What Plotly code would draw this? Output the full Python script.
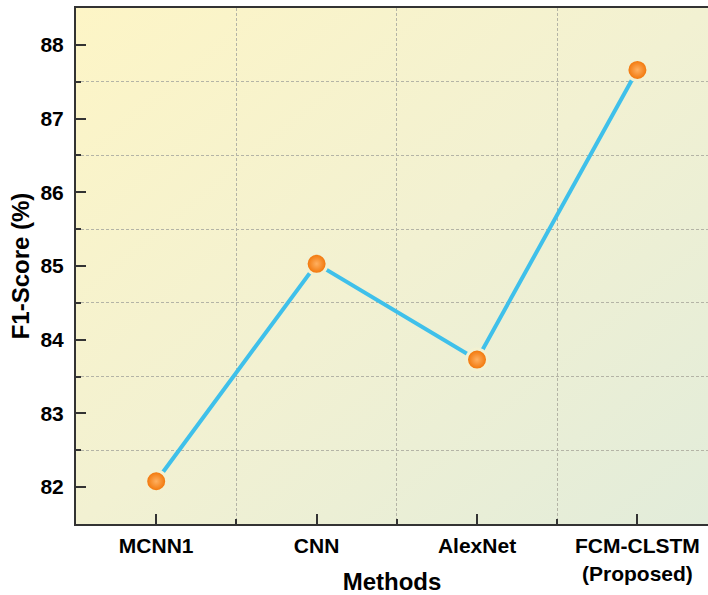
import base64
import plotly.graph_objects as go

methods = ["MCNN1", "CNN", "AlexNet", "FCM-CLSTM<br>(Proposed)"]
f1_scores = [82.08, 85.03, 83.73, 87.66]
y_ticks = [82, 83, 84, 85, 86, 87, 88]

x_pos = list(range(len(methods)))

svg = (
    '<svg xmlns="http://www.w3.org/2000/svg" viewBox="0 0 100 100" preserveAspectRatio="none">'
    '<defs><linearGradient id="g" x1="0" y1="0" x2="1" y2="1">'
    '<stop offset="0" stop-color="#fdf5c6"/>'
    '<stop offset="0.5" stop-color="#f2f1d2"/>'
    '<stop offset="1" stop-color="#e2ecda"/>'
    '</linearGradient></defs>'
    '<rect x="0" y="0" width="100" height="100" fill="url(#g)"/></svg>'
)
bg_src = "data:image/svg+xml;base64," + base64.b64encode(svg.encode()).decode()

fig = go.Figure()
fig.add_trace(go.Scatter(
    x=x_pos, y=f1_scores, mode="lines+markers",
    line=dict(color="#3fc0ea", width=4),
    marker=dict(size=21, color="#f07000",
                gradient=dict(type="radial", color="#ffb060"),
                line=dict(color="#f2f1d2", width=3)),
    showlegend=False, cliponaxis=False,
))

axis_color = "#333333"
tick_font = dict(family="Liberation Sans, Arial, sans-serif", size=21, color="black", weight="bold")
title_font = dict(family="Liberation Sans, Arial, sans-serif", size=24, color="black", weight="bold")

fig.update_layout(
    width=708, height=595,
    margin=dict(l=76, r=0, t=8, b=71),
    paper_bgcolor="white",
    plot_bgcolor="rgba(0,0,0,0)",
    images=[dict(source=bg_src, xref="paper", yref="paper", x=0, y=1,
                 sizex=1, sizey=1, sizing="stretch", layer="below")],
    xaxis=dict(
        range=[-0.5, 3.44], tickvals=x_pos, ticktext=methods,
        ticks="inside", ticklen=10, tickwidth=2, tickcolor=axis_color,
        showline=True, linewidth=2, linecolor=axis_color, mirror=True,
        showgrid=False, zeroline=False, automargin=False,
        tickfont=tick_font, ticklabelstandoff=2,
        title=dict(text="Methods", font=title_font, standoff=0),
        minor=dict(tick0=0.5, dtick=1, ticks="inside", ticklen=5, tickwidth=2,
                   tickcolor=axis_color, showgrid=True, gridcolor="#b4b4a6",
                   griddash="3px,2px", gridwidth=1),
    ),
    yaxis=dict(
        range=[81.5, 88.5], tickvals=y_ticks,
        ticks="inside", ticklen=10, tickwidth=2, tickcolor=axis_color,
        showline=True, linewidth=2, linecolor=axis_color, mirror=False,
        showgrid=False, zeroline=False, automargin=False,
        tickfont=tick_font, ticklabelstandoff=6,
        title=dict(text="F1-Score (%)", font=title_font, standoff=4),
        minor=dict(tick0=81.5, dtick=1, ticks="inside", ticklen=5, tickwidth=2,
                   tickcolor=axis_color, showgrid=True, gridcolor="#b4b4a6",
                   griddash="3px,2px", gridwidth=1),
    ),
)

fig.write_html("out.html")
